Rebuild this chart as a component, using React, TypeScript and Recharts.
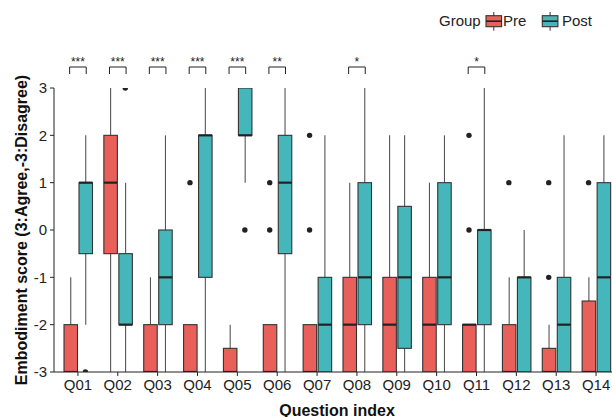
import React from 'react';
import { ComposedChart, Bar, Scatter, XAxis, YAxis, Legend } from 'recharts';

const categories = ['Q01', 'Q02', 'Q03', 'Q04', 'Q05', 'Q06', 'Q07', 'Q08', 'Q09', 'Q10', 'Q11', 'Q12', 'Q13', 'Q14'];

const preLow = [-3, -3, -3, -3, -3, -3, -3, -3, -3, -3, -3, -3, -3, -3];
const preQ1 = [-3, -0.5, -3, -3, -3, -3, -3, -3, -3, -3, -3, -3, -3, -3];
const preMedian = [-3, 1, -3, -3, -3, -3, -3, -2, -2, -2, -2, -3, -3, -3];
const preQ3 = [-2, 2, -2, -2, -2.5, -2, -2, -1, -1, -1, -2, -2, -2.5, -1.5];
const preHigh = [-1, 3, -1, -2, -2, -2, -2, 1, 2, 1, -2, -1, -2, -1];
const preOutliers: number[][] = [[], [], [], [1], [], [1, 0], [2, 0], [], [], [], [2, 0], [1], [1, -1], [1]];

const postLow = [-2, -3, -3, -3, 1, -3, -3, -3, -3, -3, -3, -3, -3, -3];
const postQ1 = [-0.5, -2, -2, -1, 2, -0.5, -3, -2, -2.5, -2, -2, -3, -3, -3];
const postMedian = [1, -2, -1, 2, 2, 1, -2, -1, -1, -1, 0, -1, -2, -1];
const postQ3 = [1, -0.5, 0, 2, 3, 2, -1, 1, 0.5, 1, 0, -1, -1, 1];
const postHigh = [2, 1, 2, 3, 3, 3, 2, 3, 2, 2, 3, 0, 2, 2];
const postOutliers: number[][] = [[-3], [3], [], [], [0], [], [], [], [], [], [], [], [], []];

const significance = ['***', '***', '***', '***', '***', '**', '', '*', '', '', '*', '', '', ''];
const yTicks = [-3, -2, -1, 0, 1, 2, 3];

const PRE_FILL = '#E9605A';
const POST_FILL = '#45B7BA';
const BOX_STROKE = '#333333';
const BAR_SIZE = 13.5;
const BAR_GAP = 1.5;
const DODGE = (BAR_SIZE + BAR_GAP) / 2;
const FONT = '"Liberation Sans", Arial, Helvetica, sans-serif';

const rows = categories.map((q, i) => ({
  q,
  preWhisker: [preLow[i], preHigh[i]],
  preBox: [preQ1[i], preQ3[i]],
  preMed: preMedian[i],
  postWhisker: [postLow[i], postHigh[i]],
  postBox: [postQ1[i], postQ3[i]],
  postMed: postMedian[i],
  preOut0: preOutliers[i][0] ?? null,
  preOut1: preOutliers[i][1] ?? null,
  postOut0: postOutliers[i][0] ?? null,
  postOut1: postOutliers[i][1] ?? null,
  sigTop: significance[i] ? 3 : null,
  sigLabel: significance[i],
}));

const makeBox = (fill: string, boxKey: string, medKey: string) => (props: any) => {
  const { x, y, width, height, payload } = props;
  if (!payload || x == null || y == null) return <g />;
  const [lo, hi] = payload[boxKey];
  const med = payload[medKey];
  const my = hi === lo ? y : y + ((hi - med) / (hi - lo)) * height;
  return (
    <g>
      <rect x={x} y={y} width={width} height={height} fill={fill} stroke={BOX_STROKE} strokeWidth={1.1} />
      <line x1={x} x2={x + width} y1={my} y2={my} stroke="#222" strokeWidth={2.2} />
    </g>
  );
};

const WhiskerShape = (props: any) => {
  const { x, y, width, height } = props;
  if (x == null || y == null) return <g />;
  const cx = x + width / 2;
  return <line x1={cx} x2={cx} y1={y} y2={y + height} stroke="#555" strokeWidth={1.1} />;
};

const makeDot = (dx: number, key: string) => (props: any) => {
  const { cx, cy, payload } = props;
  if (!payload || payload[key] == null || cx == null || cy == null) return <g />;
  return <circle cx={cx + dx} cy={cy} r={2.7} fill="#222" />;
};

const SigShape = (props: any) => {
  const { cx, cy, payload } = props;
  if (!payload || !payload.sigLabel || cx == null || cy == null) return <g />;
  const x1 = cx - 8.3;
  const x2 = cx + 8.3;
  return (
    <g>
      <path d={`M${x1},${cy - 14}V${cy - 21}H${x2}V${cy - 14}`} fill="none" stroke="#222" strokeWidth={1} />
      <text x={cx} y={cy - 22.5} textAnchor="middle" fontSize={12} fill="#222" fontFamily={FONT}>
        {payload.sigLabel}
      </text>
    </g>
  );
};

const KeyIcon = ({ x, fill }: { x: number; fill: string }) => (
  <g>
    <line x1={x + 7.8} x2={x + 7.8} y1={4} y2={22.7} stroke="#333" strokeWidth={1} />
    <rect x={x} y={7.7} width={15.6} height={11} fill={fill} stroke={BOX_STROKE} strokeWidth={1.1} />
    <line x1={x} x2={x + 15.6} y1={13.2} y2={13.2} stroke="#222" strokeWidth={1.6} />
  </g>
);

const LegendContent = () => (
  <svg width={180} height={28} style={{ display: 'block', overflow: 'visible' }}>
    <text x={3} y={18.3} fontSize={15} fill="#222" fontFamily={FONT}>Group</text>
    <KeyIcon x={50} fill={PRE_FILL} />
    <text x={67} y={18.3} fontSize={15} fill="#222" fontFamily={FONT}>Pre</text>
    <KeyIcon x={106.3} fill={POST_FILL} />
    <text x={126} y={18.3} fontSize={15} fill="#222" fontFamily={FONT}>Post</text>
  </svg>
);

const YLabel = (props: any) => {
  const vb = props.viewBox || {};
  const cx = (vb.x ?? 0) + 21.6;
  const cy = (vb.y ?? 0) + (vb.height ?? 0) / 2;
  return (
    <text x={cx} y={cy} dy="0.355em" transform={`rotate(-90, ${cx}, ${cy})`} textAnchor="middle" fontSize={16} fontWeight="bold" fill="#111" fontFamily={FONT}>
      Embodiment score (3:Agree,-3:Disagree)
    </text>
  );
};

const XLabel = (props: any) => {
  const vb = props.viewBox || {};
  const cx = (vb.x ?? 0) + (vb.width ?? 0) / 2;
  const y = (vb.y ?? 0) + (vb.height ?? 0) - 1.5;
  return (
    <text x={cx} y={y} textAnchor="middle" fontSize={16} fontWeight="bold" fill="#111" fontFamily={FONT}>
      Question index
    </text>
  );
};

export default function App() {
  return (
    <div style={{ position: 'absolute', left: 0, top: 0, width: 612, height: 417, overflow: 'hidden', background: '#fff', fontFamily: FONT }}>
      <ComposedChart width={620} height={417} data={rows} margin={{ top: 88, right: 0, bottom: 0, left: 0 }} barSize={BAR_SIZE} barGap={BAR_GAP}>
        <XAxis
          dataKey="q"
          interval={0}
          padding={{ left: 4, right: 4 }}
          height={45}
          tickSize={4}
          tickMargin={3}
          tick={{ fontSize: 15, fill: '#222', fontFamily: FONT }}
          axisLine={{ stroke: '#222', strokeWidth: 1 }}
          tickLine={{ stroke: '#222', strokeWidth: 1 }}
          label={XLabel}
        />
        <XAxis xAxisId="w" dataKey="q" hide padding={{ left: 4, right: 4 }} />
        <YAxis
          type="number"
          domain={[-3, 3]}
          ticks={yTicks}
          allowDataOverflow
          width={54}
          tickSize={4}
          tickMargin={3}
          tick={{ fontSize: 15, fill: '#222', fontFamily: FONT }}
          axisLine={{ stroke: '#222', strokeWidth: 1 }}
          tickLine={{ stroke: '#222', strokeWidth: 1 }}
          label={YLabel}
        />
        <YAxis yAxisId="sig" hide type="number" domain={[-3, 3]} />
        <Legend layout="horizontal" verticalAlign="middle" align="center" wrapperStyle={{ left: 436, top: 8, width: 180, height: 28 }} content={LegendContent} />
        <Bar xAxisId="w" dataKey="preWhisker" shape={WhiskerShape} isAnimationActive={false} />
        <Bar xAxisId="w" dataKey="postWhisker" shape={WhiskerShape} isAnimationActive={false} />
        <Bar dataKey="preBox" shape={makeBox(PRE_FILL, 'preBox', 'preMed')} isAnimationActive={false} />
        <Bar dataKey="postBox" shape={makeBox(POST_FILL, 'postBox', 'postMed')} isAnimationActive={false} />
        <Scatter dataKey="preOut0" shape={makeDot(-DODGE, 'preOut0')} isAnimationActive={false} />
        <Scatter dataKey="preOut1" shape={makeDot(-DODGE, 'preOut1')} isAnimationActive={false} />
        <Scatter dataKey="postOut0" shape={makeDot(DODGE, 'postOut0')} isAnimationActive={false} />
        <Scatter dataKey="postOut1" shape={makeDot(DODGE, 'postOut1')} isAnimationActive={false} />
        <Scatter yAxisId="sig" dataKey="sigTop" shape={SigShape} isAnimationActive={false} />
      </ComposedChart>
    </div>
  );
}
